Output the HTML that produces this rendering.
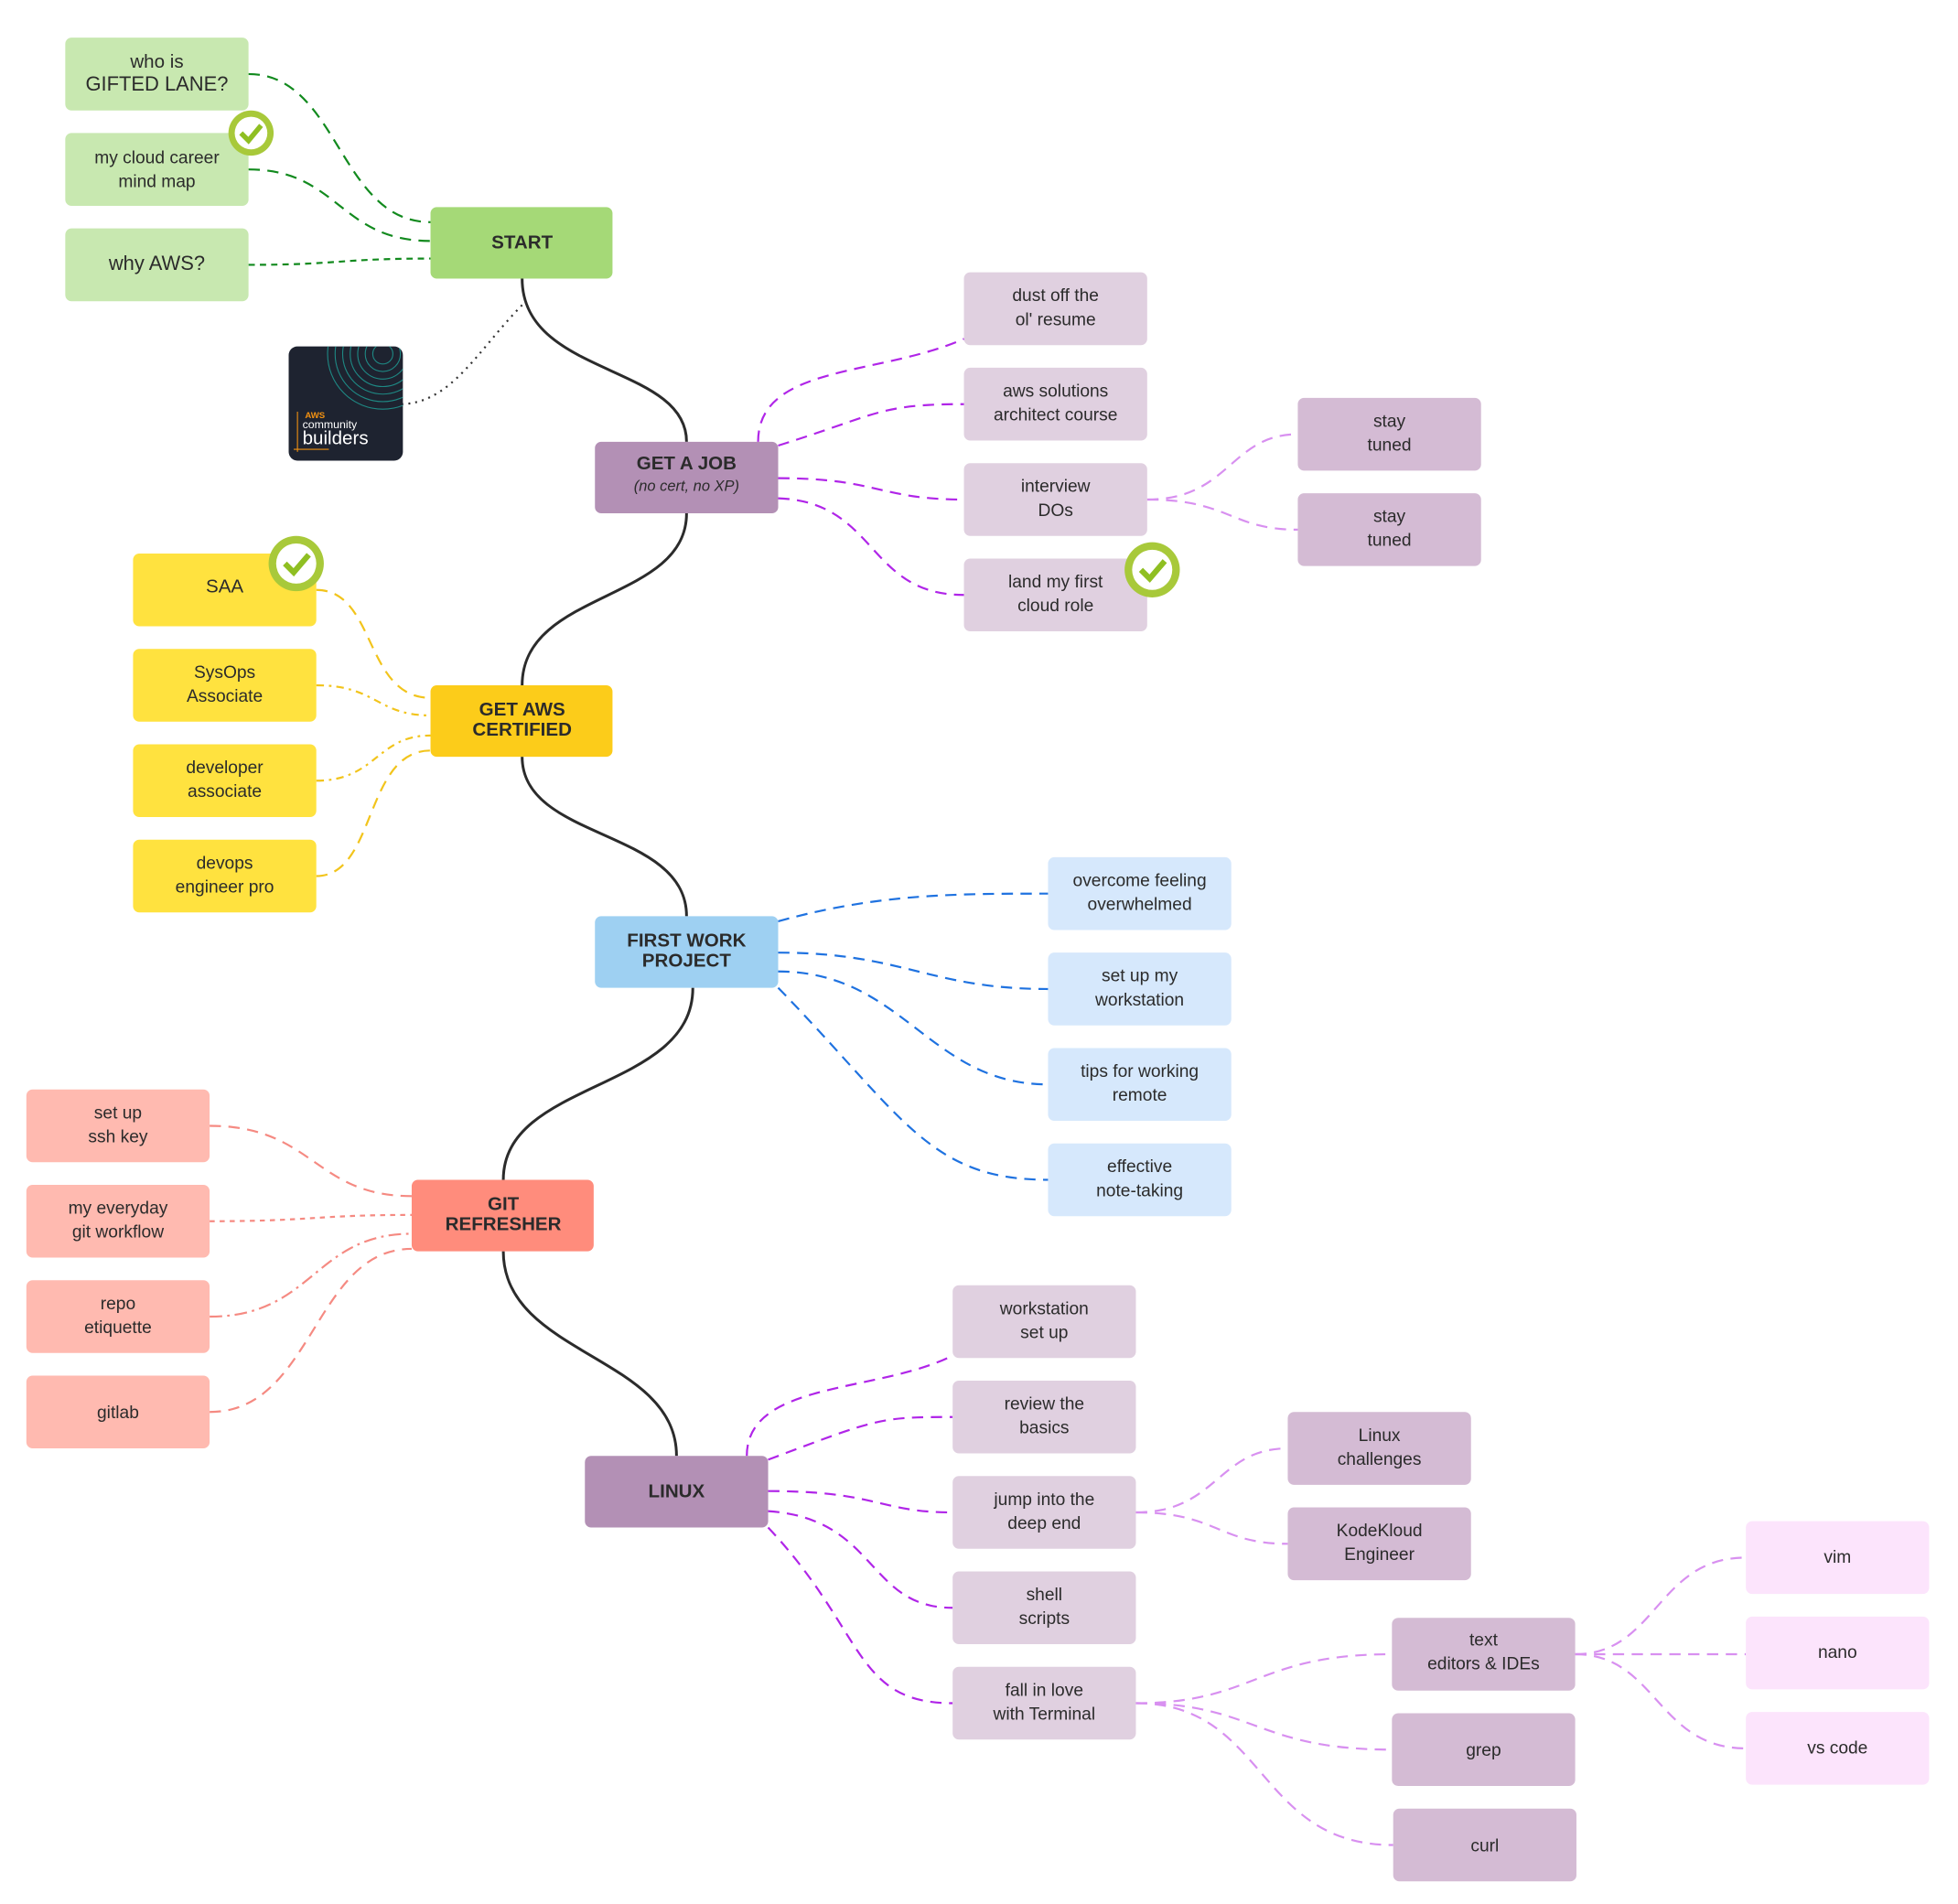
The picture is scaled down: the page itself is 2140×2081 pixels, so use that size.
<!DOCTYPE html>
<html><head><meta charset="utf-8"><style>
html,body{margin:0;padding:0;background:#fff;}
svg{display:block}
text{font-family:"Liberation Sans",sans-serif;fill:#2b2b2b;text-anchor:middle;}
.c{font-size:14px}
.m{font-size:15px;font-weight:bold}
</style></head><body>
<svg width="2140" height="2081" viewBox="0 0 1560 1517" xmlns="http://www.w3.org/2000/svg">
<defs><clipPath id="lg"><rect x="230" y="276" width="91" height="91" rx="7"/></clipPath></defs>
<g fill="none" stroke-width="1.6">
<g stroke="#2b2b2b" stroke-width="2.2">
<path d="M416 222 C416 300,547 290,547 352"/>
<path d="M547 409 C547 480,416 470,416 546"/>
<path d="M416 603 C416 670,547 660,547 730"/>
<path d="M552 787 C552 870,401 860,401 940"/>
<path d="M401 997 C401 1080,539 1080,539 1160"/>
</g>
<path d="M416 243 C380 280,360 320,321 322" stroke="#333" stroke-dasharray="1.5 4"/>
<g stroke="#128a1e" stroke-dasharray="9 6">
<path d="M198 59 C270 59,270 177,343 177"/>
<path d="M198 135 C270 135,270 192,343 192"/>
<path d="M198 211 C270 211,270 206,343 206" stroke-dasharray="5 4"/>
</g>
<g stroke="#b025e8" stroke-dasharray="9 6">
<path d="M604 352 C604 290,700 300,768 270"/>
<path d="M620 355 C700 330,700 322,768 322"/>
<path d="M620 381 C700 381,700 398,768 398"/>
<path d="M620 397 C700 400,690 474,768 474"/>
</g>
<g stroke="#d890f0" stroke-dasharray="9 6">
<path d="M914 398 C980 398,980 346,1034 346"/>
<path d="M914 398 C980 398,980 422,1034 422"/>
</g>
<g stroke="#f2c41c" stroke-dasharray="9 6">
<path d="M252 470 C300 470,290 556,343 556"/>
<path d="M252 546 C300 546,300 570,343 570" stroke-dasharray="6 4 2 4"/>
<path d="M252 622 C300 622,300 586,343 586" stroke-dasharray="6 4 2 4"/>
<path d="M252 698 C300 698,290 598,343 598"/>
</g>
<g stroke="#1f72e0" stroke-dasharray="9 6">
<path d="M620 734 C700 712,760 712,835 712"/>
<path d="M620 759 C720 759,740 788,835 788"/>
<path d="M620 774 C720 774,740 864,835 864"/>
<path d="M620 787 C720 890,740 940,835 940"/>
</g>
<g stroke="#f58a82" stroke-dasharray="9 6">
<path d="M167 897 C250 897,250 953,328 953"/>
<path d="M167 973 C250 973,250 968,328 968" stroke-dasharray="4 4"/>
<path d="M167 1049 C250 1049,250 983,328 983" stroke-dasharray="10 4 2 4"/>
<path d="M167 1125 C250 1125,250 995,328 995"/>
</g>
<g stroke="#b025e8" stroke-dasharray="9 6">
<path d="M595 1160 C595 1100,700 1110,759 1080"/>
<path d="M612 1163 C700 1130,700 1129,759 1129"/>
<path d="M612 1188 C700 1188,700 1205,759 1205"/>
<path d="M612 1204 C700 1210,690 1281,759 1281"/>
<path d="M612 1217 C690 1300,680 1357,759 1357"/>
</g>
<g stroke="#d890f0" stroke-dasharray="9 6">
<path d="M905 1205 C970 1205,970 1154,1026 1154"/>
<path d="M905 1205 C970 1205,970 1230,1026 1230"/>
<path d="M905 1357 C1000 1357,1000 1318,1109 1318"/>
<path d="M905 1357 C1000 1357,1000 1394,1109 1394"/>
<path d="M905 1357 C1010 1357,1000 1470,1110 1470"/>
<path d="M1255 1318 C1320 1318,1320 1241,1391 1241"/>
<path d="M1255 1318 L1391 1318"/>
<path d="M1255 1318 C1320 1318,1320 1393,1391 1393"/>
</g>
</g>
<g>
<rect x="52" y="30" width="146" height="58" rx="5" fill="#c8e8b0"/>
<rect x="52" y="106" width="146" height="58" rx="5" fill="#c8e8b0"/>
<rect x="52" y="182" width="146" height="58" rx="5" fill="#c8e8b0"/>
<rect x="343" y="165" width="145" height="57" rx="5" fill="#a5d977"/>
<rect x="230" y="276" width="91" height="91" rx="7" fill="#1e2330"/>
<rect x="474" y="352" width="146" height="57" rx="5" fill="#b390b5"/>
<rect x="768" y="217" width="146" height="58" rx="5" fill="#e0d0e0"/>
<rect x="768" y="293" width="146" height="58" rx="5" fill="#e0d0e0"/>
<rect x="768" y="369" width="146" height="58" rx="5" fill="#e0d0e0"/>
<rect x="768" y="445" width="146" height="58" rx="5" fill="#e0d0e0"/>
<rect x="1034" y="317" width="146" height="58" rx="5" fill="#d4bbd4"/>
<rect x="1034" y="393" width="146" height="58" rx="5" fill="#d4bbd4"/>
<rect x="343" y="546" width="145" height="57" rx="5" fill="#fccc1a"/>
<rect x="106" y="441" width="146" height="58" rx="5" fill="#ffe23f"/>
<rect x="106" y="517" width="146" height="58" rx="5" fill="#ffe23f"/>
<rect x="106" y="593" width="146" height="58" rx="5" fill="#ffe23f"/>
<rect x="106" y="669" width="146" height="58" rx="5" fill="#ffe23f"/>
<rect x="474" y="730" width="146" height="57" rx="5" fill="#9ed0f2"/>
<rect x="835" y="683" width="146" height="58" rx="5" fill="#d6e8fc"/>
<rect x="835" y="759" width="146" height="58" rx="5" fill="#d6e8fc"/>
<rect x="835" y="835" width="146" height="58" rx="5" fill="#d6e8fc"/>
<rect x="835" y="911" width="146" height="58" rx="5" fill="#d6e8fc"/>
<rect x="328" y="940" width="145" height="57" rx="5" fill="#ff8c7c"/>
<rect x="21" y="868" width="146" height="58" rx="5" fill="#ffbab0"/>
<rect x="21" y="944" width="146" height="58" rx="5" fill="#ffbab0"/>
<rect x="21" y="1020" width="146" height="58" rx="5" fill="#ffbab0"/>
<rect x="21" y="1096" width="146" height="58" rx="5" fill="#ffbab0"/>
<rect x="466" y="1160" width="146" height="57" rx="5" fill="#b390b5"/>
<rect x="759" y="1024" width="146" height="58" rx="5" fill="#e0d0e0"/>
<rect x="759" y="1100" width="146" height="58" rx="5" fill="#e0d0e0"/>
<rect x="759" y="1176" width="146" height="58" rx="5" fill="#e0d0e0"/>
<rect x="759" y="1252" width="146" height="58" rx="5" fill="#e0d0e0"/>
<rect x="759" y="1328" width="146" height="58" rx="5" fill="#e0d0e0"/>
<rect x="1026" y="1125" width="146" height="58" rx="5" fill="#d4bbd4"/>
<rect x="1026" y="1201" width="146" height="58" rx="5" fill="#d4bbd4"/>
<rect x="1109" y="1289" width="146" height="58" rx="5" fill="#d4bbd4"/>
<rect x="1109" y="1365" width="146" height="58" rx="5" fill="#d4bbd4"/>
<rect x="1110" y="1441" width="146" height="58" rx="5" fill="#d4bbd4"/>
<rect x="1391" y="1212" width="146" height="58" rx="5" fill="#fce4fc"/>
<rect x="1391" y="1288" width="146" height="58" rx="5" fill="#fce4fc"/>
<rect x="1391" y="1364" width="146" height="58" rx="5" fill="#fce4fc"/>
</g>
<g fill="none" stroke="#1fa39a" stroke-width="0.8" opacity="0.8" clip-path="url(#lg)">
<circle cx="305" cy="282" r="8"/><circle cx="305" cy="282" r="14"/><circle cx="305" cy="282" r="20"/><circle cx="305" cy="282" r="26"/><circle cx="305" cy="282" r="32"/><circle cx="305" cy="282" r="38"/><circle cx="305" cy="282" r="44"/>
</g>
<text x="243" y="333" style="font-size:7px;font-weight:bold;fill:#f29111;text-anchor:start">AWS</text>
<text x="241" y="341" style="font-size:9px;fill:#fff;text-anchor:start">community</text>
<text x="241" y="354" style="font-size:15px;fill:#fff;text-anchor:start">builders</text>
<line x1="237" y1="328" x2="237" y2="360" stroke="#f29111" stroke-width="0.8"/>
<line x1="234" y1="358" x2="262" y2="358" stroke="#f29111" stroke-width="0.8"/>
<g>
<circle cx="200" cy="106" r="18" fill="#a8c93a"/><circle cx="200" cy="106" r="13" fill="#fff"/><path d="M192 106 l6 6 l10 -12" stroke="#8fbf22" stroke-width="4" fill="none"/>
<circle cx="236" cy="449" r="22" fill="#a8c93a"/><circle cx="236" cy="449" r="16" fill="#fff"/><path d="M227 449 l7 7 l12 -14" stroke="#8fbf22" stroke-width="4.5" fill="none"/>
<circle cx="918" cy="454" r="22" fill="#a8c93a"/><circle cx="918" cy="454" r="16" fill="#fff"/><path d="M909 454 l7 7 l12 -14" stroke="#8fbf22" stroke-width="4.5" fill="none"/>
</g>
<g class="c">
<text x="125" y="54" style="font-size:15px">who is</text><text x="125" y="72" style="font-size:16px">GIFTED LANE?</text>
<text x="125" y="130">my cloud career</text><text x="125" y="149">mind map</text>
<text x="125" y="215" style="font-size:16px">why AWS?</text>
<text x="841" y="240">dust off the</text><text x="841" y="259">ol' resume</text>
<text x="841" y="316">aws solutions</text><text x="841" y="335">architect course</text>
<text x="841" y="392">interview</text><text x="841" y="411">DOs</text>
<text x="841" y="468">land my first</text><text x="841" y="487">cloud role</text>
<text x="1107" y="340">stay</text><text x="1107" y="359">tuned</text>
<text x="1107" y="416">stay</text><text x="1107" y="435">tuned</text>
<text x="179" y="472" style="font-size:15px">SAA</text>
<text x="179" y="540">SysOps</text><text x="179" y="559">Associate</text>
<text x="179" y="616">developer</text><text x="179" y="635">associate</text>
<text x="179" y="692">devops</text><text x="179" y="711">engineer pro</text>
<text x="908" y="706">overcome feeling</text><text x="908" y="725">overwhelmed</text>
<text x="908" y="782">set up my</text><text x="908" y="801">workstation</text>
<text x="908" y="858">tips for working</text><text x="908" y="877">remote</text>
<text x="908" y="934">effective</text><text x="908" y="953">note-taking</text>
<text x="94" y="891">set up</text><text x="94" y="910">ssh key</text>
<text x="94" y="967">my everyday</text><text x="94" y="986">git workflow</text>
<text x="94" y="1043">repo</text><text x="94" y="1062">etiquette</text>
<text x="94" y="1130">gitlab</text>
<text x="832" y="1047">workstation</text><text x="832" y="1066">set up</text>
<text x="832" y="1123">review the</text><text x="832" y="1142">basics</text>
<text x="832" y="1199">jump into the</text><text x="832" y="1218">deep end</text>
<text x="832" y="1275">shell</text><text x="832" y="1294">scripts</text>
<text x="832" y="1351">fall in love</text><text x="832" y="1370">with Terminal</text>
<text x="1099" y="1148">Linux</text><text x="1099" y="1167">challenges</text>
<text x="1099" y="1224">KodeKloud</text><text x="1099" y="1243">Engineer</text>
<text x="1182" y="1311">text</text><text x="1182" y="1330">editors &amp; IDEs</text>
<text x="1182" y="1399">grep</text>
<text x="1183" y="1475">curl</text>
<text x="1464" y="1245">vim</text>
<text x="1464" y="1321">nano</text>
<text x="1464" y="1397">vs code</text>
</g>
<g class="m">
<text x="416" y="198">START</text>
<text x="547" y="374">GET A JOB</text><text x="547" y="391" style="font-size:12px;font-weight:normal;font-style:italic">(no cert, no XP)</text>
<text x="416" y="570">GET AWS</text><text x="416" y="586">CERTIFIED</text>
<text x="547" y="754">FIRST WORK</text><text x="547" y="770">PROJECT</text>
<text x="401" y="964">GIT</text><text x="401" y="980">REFRESHER</text>
<text x="539" y="1193">LINUX</text>
</g>
</svg>
</body></html>
